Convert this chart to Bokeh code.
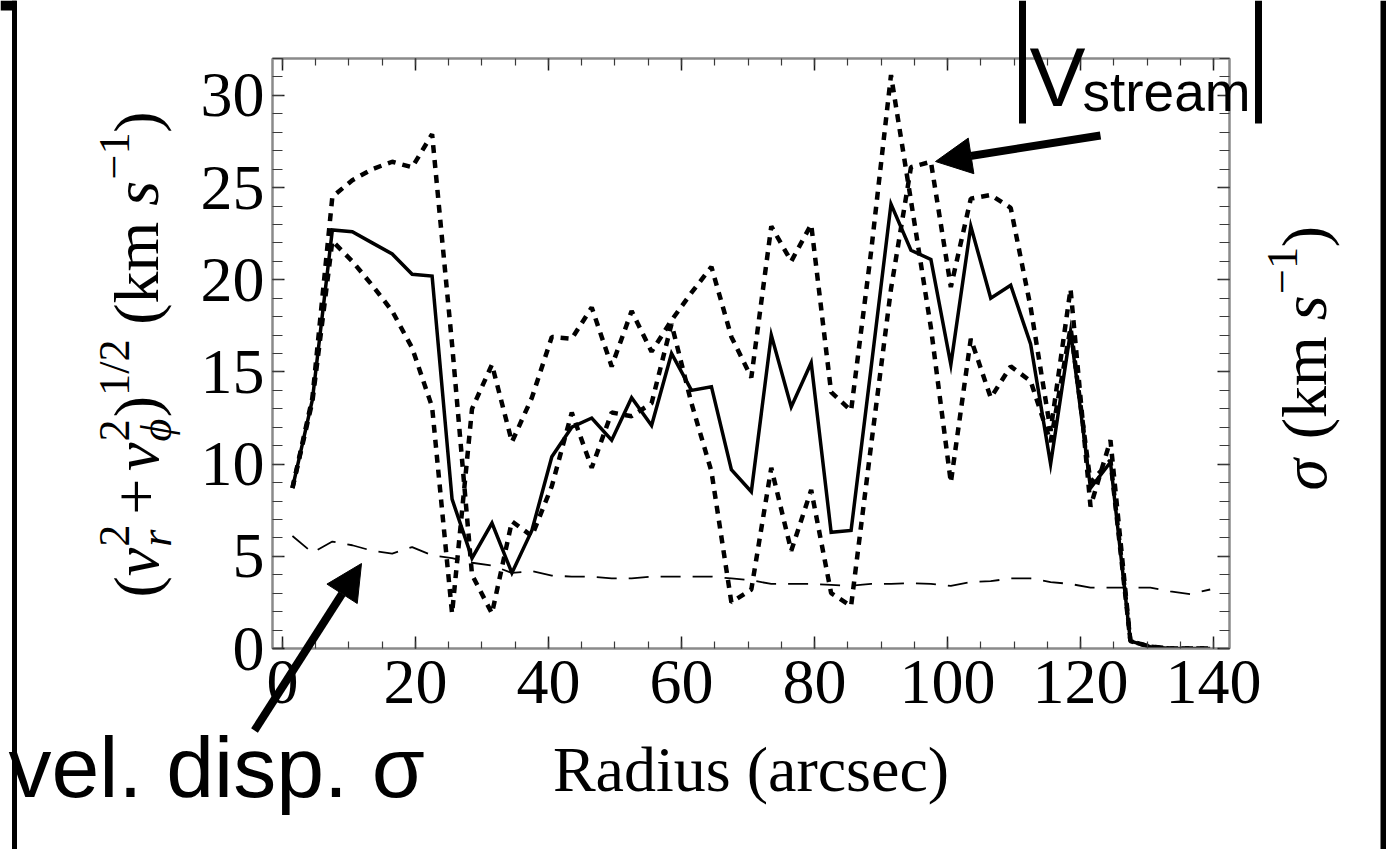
import math
from bokeh.plotting import figure
from bokeh.models import Range1d, LinearAxis, SingleIntervalTicker, Label, Arrow, NormalHead
from bokeh.embed import file_html
from bokeh.resources import INLINE

# ---------------- data ----------------
radius = [1.5, 4.5, 7.5, 10.5, 13.5, 16.5, 19.5, 22.5, 25.5, 28.5, 31.5, 34.5,
          37.5, 40.5, 43.5, 46.5, 49.5, 52.5, 55.5, 58.5, 61.5, 64.5, 67.5, 70.5,
          73.5, 76.5, 79.5, 82.5, 85.5, 88.5, 91.5, 94.5, 97.5, 100.5, 103.5,
          106.5, 109.5, 112.5, 115.5, 118.5, 121.5, 124.5, 127.5, 130.5, 133.5,
          136.5, 139.5]

v_stream = [8.7, 13.5, 22.7, 22.6, 22.0, 21.4, 20.3, 20.2, 8.1, 4.9, 6.8, 4.1,
            6.4, 10.4, 12.0, 12.5, 11.3, 13.6, 12.1, 16.0, 14.0, 14.2, 9.7, 8.5,
            17.0, 13.1, 15.5, 6.3, 6.4, 15.2, 24.1, 21.6, 21.1, 15.4, 22.9,
            19.0, 19.7, 16.5, 10.0, 17.2, 8.7, 10.1, 0.4, 0.1, 0.0,
            0.0, 0.0]

comp_a = [8.7, 13.6, 24.5, 25.4, 26.0, 26.4, 26.1, 27.9, 16.5, 4.0, 1.9, 6.9,
          6.1, 8.8, 12.8, 9.8, 12.8, 12.6, 13.3, 17.6, 13.3, 9.6, 2.5, 3.2,
          9.8, 5.3, 8.6, 3.0, 2.3, 11.0, 19.5, 26.1, 26.4, 19.6, 24.4,
          24.6, 23.9, 18.5, 11.8, 19.5, 7.7, 11.3, 0.4, 0.1, 0.0,
          0.0, 0.0]

comp_b = [8.7, 13.4, 22.1, 21.0, 19.7, 18.3, 16.3, 13.1, 1.9, 13.0, 15.4, 11.2,
          13.6, 16.9, 16.8, 18.5, 15.3, 18.3, 16.1, 17.8, 19.3, 20.7, 16.9, 14.7,
          22.9, 21.0, 23.0, 13.9, 12.9, 21.5, 31.1, 24.3, 17.4, 9.0, 16.8,
          13.6, 15.3, 14.5, 11.2, 17.4, 9.0, 10.2, 0.4, 0.1, 0.0,
          0.0, 0.0]

sigma = [6.1, 5.2, 5.8, 5.6, 5.3, 5.15, 5.5, 5.05, 4.9, 4.65, 4.5, 4.1,
         4.2, 3.95, 3.9, 3.9, 3.8, 3.8, 3.9, 3.9, 3.9, 3.9, 3.8, 3.7,
         3.5, 3.5, 3.5, 3.45, 3.4, 3.5, 3.5, 3.55, 3.5, 3.4, 3.6,
         3.65, 3.8, 3.8, 3.6, 3.5, 3.3, 3.3, 3.3, 3.3, 3.1,
         2.95, 3.2]

x_ticks_interval = 20
y_ticks_interval = 5

# ---------------- geometry ----------------
W, H = 1386, 849
FL, FR, FT, FB = 272, 1229, 58, 648
X0, X1 = -1.5, 142.4
Y0, Y1 = 0.0, 32.0

SERIF = "Liberation Serif"
SANS = "Liberation Sans"
BASE_SHIFT = 0.37   # empirical offset of the label anchor to the alphabetic baseline

p = figure(width=W, height=H, x_range=Range1d(X0, X1), y_range=Range1d(Y0, Y1),
           output_backend="svg", toolbar_location=None,
           min_border_left=FL, min_border_right=W - FR,
           min_border_top=FT, min_border_bottom=H - FB)
p.xgrid.visible = False
p.ygrid.visible = False
p.background_fill_color = "white"
p.border_fill_color = "white"
p.outline_line_color = "#8a8a8a"
p.outline_line_width = 2


def style_axis(ax, interval, nminor, labels, major_in, minor_in):
    ax.ticker = SingleIntervalTicker(interval=interval, num_minor_ticks=nminor)
    ax.axis_line_color = "#8a8a8a"
    ax.axis_line_width = 2
    ax.major_tick_in = major_in
    ax.major_tick_out = 0
    ax.minor_tick_in = minor_in
    ax.minor_tick_out = 0
    ax.major_tick_line_color = "#1a1a1a"
    ax.major_tick_line_width = 1.5
    ax.minor_tick_line_color = "#3a3a3a"
    ax.minor_tick_line_width = 1.2
    if labels:
        ax.major_label_text_font = SERIF
        ax.major_label_text_font_size = "64px"
        ax.major_label_text_color = "black"
    else:
        ax.major_label_text_color = None


bottom = p.xaxis[0]
style_axis(bottom, x_ticks_interval, 4, True, 12, 7)
bottom.major_label_standoff = 12
bottom.axis_label = "Radius (arcsec)"
bottom.axis_label_text_font = SERIF
bottom.axis_label_text_font_size = "64px"
bottom.axis_label_text_font_style = "normal"
bottom.axis_label_text_color = "black"
bottom.axis_label_standoff = 28

left = p.yaxis[0]
style_axis(left, y_ticks_interval, 5, True, 12, 10)
left.major_label_standoff = 8

top = LinearAxis()
style_axis(top, x_ticks_interval, 4, False, 12, 7)
p.add_layout(top, "above")
right = LinearAxis()
style_axis(right, y_ticks_interval, 5, False, 12, 10)
p.add_layout(right, "right")

# ---------------- curves ----------------
p.line(radius, sigma, line_color="black", line_width=1.8, line_dash="20 12")
p.line(radius, comp_a, line_color="black", line_width=4.5, line_dash="8 7")
p.line(radius, comp_b, line_color="black", line_width=4.5, line_dash="8 7")
p.line(radius, v_stream, line_color="black", line_width=3.5, line_join="miter")

# ---------------- transparent overlay for texts/arrows around the frame ----------------
# its data space equals page pixels (y downwards)
q = figure(width=W, height=H, x_range=Range1d(0, W), y_range=Range1d(H, 0),
           output_backend="svg", toolbar_location=None,
           x_axis_location=None, y_axis_location=None,
           min_border_left=0, min_border_right=0, min_border_top=0, min_border_bottom=0)
q.xgrid.visible = False
q.ygrid.visible = False
q.background_fill_color = None
q.border_fill_color = None
q.outline_line_color = None
q.styles = {"position": "absolute", "left": "0px", "top": "0px"}


def rot_label(px, py, text, size, style="normal"):
    q.add_layout(Label(x=px - BASE_SHIFT * size, y=py, text=text, angle=math.pi / 2,
                       text_align="left", text_baseline="alphabetic",
                       text_font=SERIF, text_font_size=f"{size:.1f}px",
                       text_font_style=style, text_color="black"))


def compose(base_x, start_y, pieces, F):
    f = 0.69 * F
    cur = start_y
    for kind, a, b, adv in pieces:
        if kind == "n":
            rot_label(base_x, cur, a, F, "normal")
        elif kind == "i":
            rot_label(base_x, cur, a, F, "italic")
        elif kind == "sup":
            rot_label(base_x - 0.47 * F, cur, a, f, "normal")
        elif kind == "supsub":
            rot_label(base_x - 0.47 * F, cur, a, f, "normal")
            rot_label(base_x + 0.2 * F, cur, b, f, "italic")
        cur -= adv * F


F = 64
left_pieces = [
    ("n", "(", None, 0.333),
    ("i", "v", None, 0.46),
    ("supsub", "2", "r", 0.38 + 0.12),
    ("n", "+", None, 0.564 + 0.12),
    ("i", "v", None, 0.46),
    ("supsub", "2", "\u03d5", 0.38),
    ("n", ")", None, 0.333),
    ("sup", "1/2", None, 0.91 + 0.2),
    ("n", "(", None, 0.333),
    ("n", "km", None, 1.278 + 0.25),
    ("i", "s", None, 0.41),
    ("sup", "\u22121", None, 0.73),
    ("n", ")", None, 0.333),
]
compose(160, 597, left_pieces, F)

right_pieces = [
    ("i", "\u03c3", None, 0.55 + 0.25),
    ("n", "(", None, 0.333),
    ("n", "km", None, 1.278 + 0.25),
    ("i", "s", None, 0.41),
    ("sup", "\u22121", None, 0.73),
    ("n", ")", None, 0.333),
]
compose(1328, 490, right_pieces, F)


def txt(px, py, text, size, font=SANS):
    q.add_layout(Label(x=px, y=py - BASE_SHIFT * size, text=text, text_align="left",
                       text_baseline="alphabetic", text_font=font,
                       text_font_size=f"{size}px", text_color="black"))


txt(1029, 108, "V", 84)
txt(1082, 112, "stream", 55)
txt(8, 798, "vel. disp. \u03c3", 86)


def seg(x0, y0, x1, y1, w):
    q.add_layout(Arrow(end=None, start=None, x_start=x0, y_start=y0,
                       x_end=x1, y_end=y1, line_width=w, line_color="black"))


seg(1022, 0, 1022, 123, 7)      # left bar of |V_stream|
seg(1258, 0, 1258, 123, 7)      # right bar of |V_stream|
seg(14, 0, 14, 849, 5)          # left page edge
seg(1383, 0, 1383, 849, 6)      # right page edge
seg(0, 5, 16, 5, 10)            # corner block

q.add_layout(Arrow(end=NormalHead(size=36, fill_color="black", line_color="black"),
                   x_start=1100, y_start=135, x_end=935, y_end=161,
                   line_width=8, line_color="black"))
q.add_layout(Arrow(end=NormalHead(size=36, fill_color="black", line_color="black"),
                   x_start=254, y_start=730, x_end=361, y_end=563,
                   line_width=8, line_color="black"))

open("out.html", "w").write(file_html([p, q], INLINE))
